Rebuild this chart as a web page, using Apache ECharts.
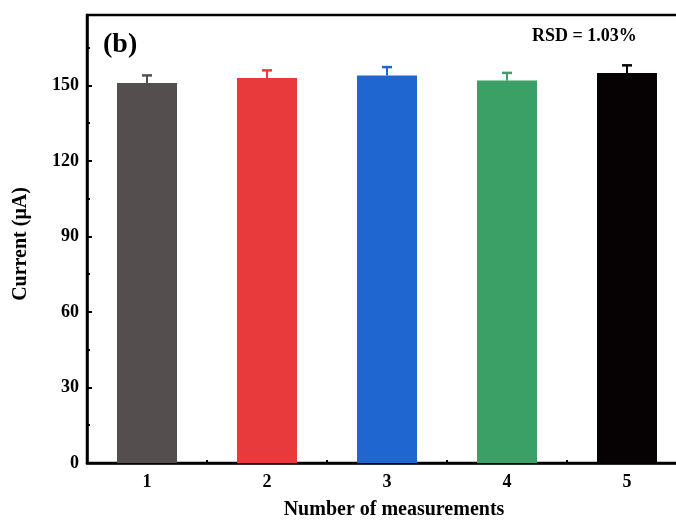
<!DOCTYPE html>
<html>
<head>
<meta charset="utf-8">
<script src="https://cdn.jsdelivr.net/npm/echarts@6/dist/echarts.min.js"></script>
<style>
  html, body { margin: 0; padding: 0; background: #fff; overflow: hidden; width: 676px; height: 525px; }
  #chart { width: 700px; height: 525px; }
</style>
</head>
<body>
<div id="chart"></div>
<script>
// Repeated current measurements (µA) with their standard deviations
const categories = ['1', '2', '3', '4', '5'];
const currents = [151, 153, 154, 152, 155];
const errors = [3, 3, 3.3, 3, 3];
const barColors = ['#554e4f', '#e83a3c', '#1f66d0', '#3aa066', '#060102'];
const yMajorTicks = [0, 30, 60, 90, 120, 150];
const yMinorTicks = [15, 45, 75, 105, 135, 165];
const panelLabel = '(b)';
const rsdLabel = 'RSD = 1.03%';

const serif = '"Liberation Serif", "Times New Roman", serif';
const axisColor = '#000';

// the plot frame runs a little past the right edge of the visible page
const chart = echarts.init(document.getElementById('chart'), null, { renderer: 'canvas' });

chart.setOption({
  animation: false,
  backgroundColor: '#fff',
  grid: {
    left: 87, right: 13, top: 15, bottom: 60,
    show: true, borderColor: axisColor, borderWidth: 2.5, backgroundColor: 'transparent'
  },
  xAxis: [
    {
      type: 'category',
      data: categories,
      name: 'Number of measurements',
      nameLocation: 'middle',
      nameGap: 37,
      nameTextStyle: { fontFamily: serif, fontWeight: 'bold', fontSize: 20, color: '#000', padding: [0, 0, 0, 14] },
      axisLine: { lineStyle: { color: axisColor, width: 2.5 } },
      axisTick: { show: true, alignWithLabel: true, inside: true, length: 5, lineStyle: { color: axisColor, width: 2 } },
      axisLabel: { fontFamily: serif, fontWeight: 'bold', fontSize: 18, color: '#000', margin: 10 },
      splitLine: { show: false }
    },
    {
      // boundary ticks between measurements
      type: 'category',
      data: categories,
      position: 'bottom',
      gridIndex: 0,
      axisLine: { show: false },
      axisTick: { show: true, alignWithLabel: false, inside: true, length: 3, lineStyle: { color: axisColor, width: 2 } },
      axisLabel: { show: false },
      splitLine: { show: false }
    }
  ],
  yAxis: [
    {
      type: 'value',
      min: 0,
      max: 178,
      interval: 30,
      name: 'Current (μA)',
      nameLocation: 'middle',
      nameGap: 56,
      nameTextStyle: { fontFamily: serif, fontWeight: 'bold', fontSize: 20, color: '#000', padding: [0, 10, 0, 0] },
      axisLine: { show: true, lineStyle: { color: axisColor, width: 2.5 } },
      axisTick: { show: true, inside: true, length: 5, customValues: yMajorTicks, lineStyle: { color: axisColor, width: 2 } },
      axisLabel: { customValues: yMajorTicks, fontFamily: serif, fontWeight: 'bold', fontSize: 18, color: '#000', margin: 8 },
      splitLine: { show: false }
    },
    {
      // minor ticks midway between labelled values
      type: 'value',
      min: 0,
      max: 178,
      interval: 30,
      position: 'left',
      axisLine: { show: false },
      axisTick: { show: true, inside: true, length: 3, customValues: yMinorTicks, lineStyle: { color: axisColor, width: 2 } },
      axisLabel: { show: false },
      splitLine: { show: false }
    }
  ],
  series: [
    {
      type: 'bar',
      barWidth: 60,
      data: currents.map((v, i) => ({ value: v, itemStyle: { color: barColors[i] } })),
      z: 2
    },
    {
      // upper error bars
      type: 'custom',
      data: currents.map((v, i) => [i, v, errors[i]]),
      renderItem: function (params, api) {
        const i = api.value(0);
        const v = api.value(1);
        const e = api.value(2);
        const base = api.coord([i, v]);
        const top = api.coord([i, v + e]);
        const color = barColors[params.dataIndex];
        const half = 5;
        return {
          type: 'group',
          children: [
            { type: 'line', shape: { x1: base[0], y1: base[1], x2: top[0], y2: top[1] }, style: { stroke: color, lineWidth: 2 } },
            { type: 'line', shape: { x1: top[0] - half, y1: top[1], x2: top[0] + half, y2: top[1] }, style: { stroke: color, lineWidth: 2.5 } }
          ]
        };
      },
      z: 3
    }
  ],
  graphic: [
    {
      type: 'text', left: 103, top: 31,
      style: { text: panelLabel, fontFamily: serif, fontWeight: 'bold', fontSize: 28, fill: '#000' }
    },
    {
      type: 'text', left: 532, top: 27,
      style: { text: rsdLabel, fontFamily: serif, fontWeight: 'bold', fontSize: 18, fill: '#000' }
    }
  ]
});
</script>
</body>
</html>
